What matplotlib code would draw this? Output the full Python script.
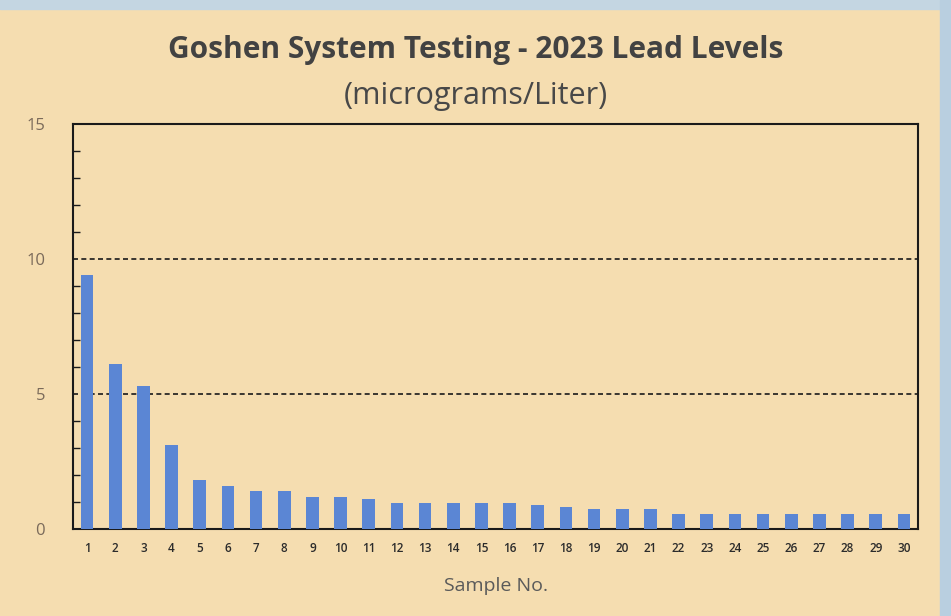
import numpy as np
import matplotlib
matplotlib.use("Agg")
from matplotlib import pyplot as plt
from matplotlib.patches import Rectangle

samples = list(range(1, 31))
lead = [9.4, 6.1, 5.3, 3.1, 1.8, 1.6, 1.4, 1.4, 1.2, 1.2,
        1.1, 0.95, 0.95, 0.95, 0.95, 0.95, 0.9, 0.8, 0.75, 0.75,
        0.75, 0.55, 0.55, 0.55, 0.55, 0.55, 0.55, 0.55, 0.55, 0.55]
ref_lines = [5, 10]
y_major = [0, 5, 10, 15]

paper = '#f5ddb0'
fig = plt.figure(figsize=(9.51, 6.16), dpi=100, facecolor=paper)
# bluish border from the photo
fig.patches.append(Rectangle((0, 0.985), 1, 0.015, transform=fig.transFigure, color='#c4d6e2', zorder=0))
fig.patches.append(Rectangle((0.988, 0), 0.012, 1, transform=fig.transFigure, color='#b9cfe0', zorder=0))

ax = fig.add_axes([73/951, 1-529/616, (918-73)/951, (529-124)/616])
ax.set_facecolor(paper)

ax.bar(samples, lead, width=0.45, color='#5b86d4', zorder=3)
for v in ref_lines:
    ax.axhline(v, color='#1a1a1a', lw=1.2, ls=(0, (3, 2)), zorder=2)

ax.set_xlim(0.5, 30.5)
ax.set_ylim(0, 15)
ax.set_xticks(samples)
ax.set_xticklabels([str(s) for s in samples], fontsize=8.5, color='#2b2b2b',
                   fontfamily='Open Sans', fontweight='semibold')
ax.set_yticks(y_major)
ax.set_yticklabels([str(v) for v in y_major], fontsize=12, color='#7a6a5a', fontfamily='Open Sans')
ax.set_yticks(np.arange(0, 16, 1), minor=True)
ax.tick_params(axis='x', length=0, pad=9)
ax.tick_params(axis='y', which='major', length=0, pad=20)
ax.tick_params(axis='y', which='minor', direction='in', length=5, width=1, color='#1a1a1a')
for s in ax.spines.values():
    s.set_linewidth(1.5)
    s.set_color('#1a1a1a')

ax.set_xlabel('Sample No.', fontsize=14, color='#5a5a5a', fontfamily='Open Sans', labelpad=16)

fig.text(0.5, 1-50/616, 'Goshen System Testing - 2023 Lead Levels', ha='center', va='center',
         fontsize=21.5, fontweight='bold', color='#424242', fontfamily='Open Sans')
fig.text(0.5, 1-96/616, '(micrograms/Liter)', ha='center', va='center',
         fontsize=22, color='#484848', fontfamily='Open Sans')

fig.savefig('out.png', dpi=100, facecolor=paper)
